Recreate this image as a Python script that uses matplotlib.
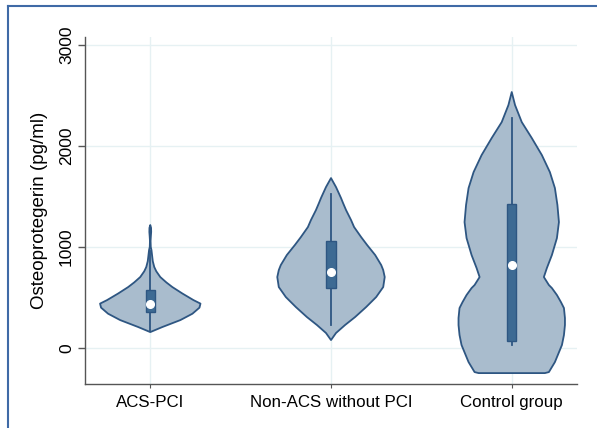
import numpy as np
import matplotlib
matplotlib.use("Agg")
import matplotlib.pyplot as plt
from matplotlib.lines import Line2D

plt.rcParams['font.family'] = ['Liberation Sans', 'DejaVu Sans']

categories = ["ACS-PCI", "Non-ACS without PCI", "Control group"]

# violin outline profiles: value (pg/ml) and half-width (pixels)
v1_vals = [158, 208, 277, 340, 400, 440, 475, 540, 604, 650, 703, 760, 802, 860, 901, 970, 1000, 1060, 1110, 1150, 1190, 1218]
v1_half = [0, 12, 30, 42, 49, 50, 43, 32, 22, 16, 10, 6, 4, 2.5, 2, 1.2, 0.5, 0.3, 0.6, 0.9, 0.8, 0]
v2_vals = [79, 149, 228, 307, 406, 505, 604, 703, 772, 822, 921, 1020, 1099, 1198, 1267, 1366, 1436, 1485, 1594, 1683]
v2_half = [0, 5, 14, 24, 35, 45, 52, 53.5, 52, 50, 44, 36, 30, 23, 20, 15, 12, 10, 5, 0]
v3_vals = [-248, -238, -139, 30, 129, 228, 297, 396, 455, 525, 594, 624, 703, 792, 921, 1089, 1247, 1416, 1584, 1742, 1911, 2079, 2237, 2406, 2535]
v3_half = [33, 37, 43, 50, 52, 53, 53, 52, 49, 45, 40, 37, 32, 35, 40, 45, 47, 45.5, 43, 38, 30, 20, 10, 3.3, 0]

# box statistics
q1 = [356, 594, 69]
median = [436, 752, 822]
q3 = [574, 1059, 1426]
whisk_lo = [165, 228, 30]
whisk_hi = [965, 1525, 2277]

yticks = [0, 1000, 2000, 3000]

W, H = 597, 428
fig = plt.figure(figsize=(W / 100, H / 100), dpi=100)
ax = fig.add_axes([85 / W, 1 - 384 / H, (577 - 85) / W, (384 - 37) / H])

px_per_unit = 180.0
fill_c = "#a9bccd"
edge_c = "#2e5682"
box_c = "#3d6a93"

profiles = [(v1_vals, v1_half), (v2_vals, v2_half), (v3_vals, v3_half)]
for i, (vals, half) in enumerate(profiles):
    x0 = i + 1
    v = np.array(vals, float)
    h = np.array(half, float) / px_per_unit
    xs = np.concatenate([x0 + h, (x0 - h)[::-1]])
    ys = np.concatenate([v, v[::-1]])
    ax.fill(xs, ys, facecolor=fill_c, edgecolor=edge_c, linewidth=1.3,
            joinstyle='round', zorder=2)
    # whisker
    ax.plot([x0, x0], [whisk_lo[i], whisk_hi[i]], color=edge_c, lw=1.3, zorder=3)
    # box
    bw = 4.5 / px_per_unit
    ax.add_patch(plt.Rectangle((x0 - bw, q1[i]), 2 * bw, q3[i] - q1[i],
                               facecolor=box_c, edgecolor=edge_c, lw=1.0, zorder=4))
    ax.plot([x0], [median[i]], marker='o', ms=5.5, mfc='white', mec='white', zorder=5)

ax.set_xlim(1 - 65 / px_per_unit, 3 + 65 / px_per_unit)
ax.set_ylim(-356, 3080)
ax.set_xticks([1, 2, 3])
ax.set_xticklabels(categories, fontsize=12.2)
ax.set_yticks(yticks)
ax.set_yticklabels([str(t) for t in yticks], rotation=90, va='center', fontsize=12.5)
ax.set_ylabel("Osteoprotegerin (pg/ml)", fontsize=13.5, labelpad=8)
ax.grid(True, color="#e6f1f3", lw=1.0, zorder=0)
ax.set_axisbelow(True)
for s in ['top', 'right']:
    ax.spines[s].set_visible(False)
for s in ['left', 'bottom']:
    ax.spines[s].set_color("#555555")
    ax.spines[s].set_linewidth(1.0)
ax.tick_params(axis='y', length=5, width=1, color="#555555", pad=3)
ax.tick_params(axis='x', length=3, width=0.8, color="#555555", pad=5)

# outer frame (top and left)
fig.add_artist(Line2D([8 / W, 1], [1 - 6 / H, 1 - 6 / H], color="#3f6aa6", lw=1.5))
fig.add_artist(Line2D([8 / W, 8 / W], [0, 1 - 6 / H], color="#3f6aa6", lw=1.5))

fig.savefig("out.png", dpi=100, facecolor="white")
